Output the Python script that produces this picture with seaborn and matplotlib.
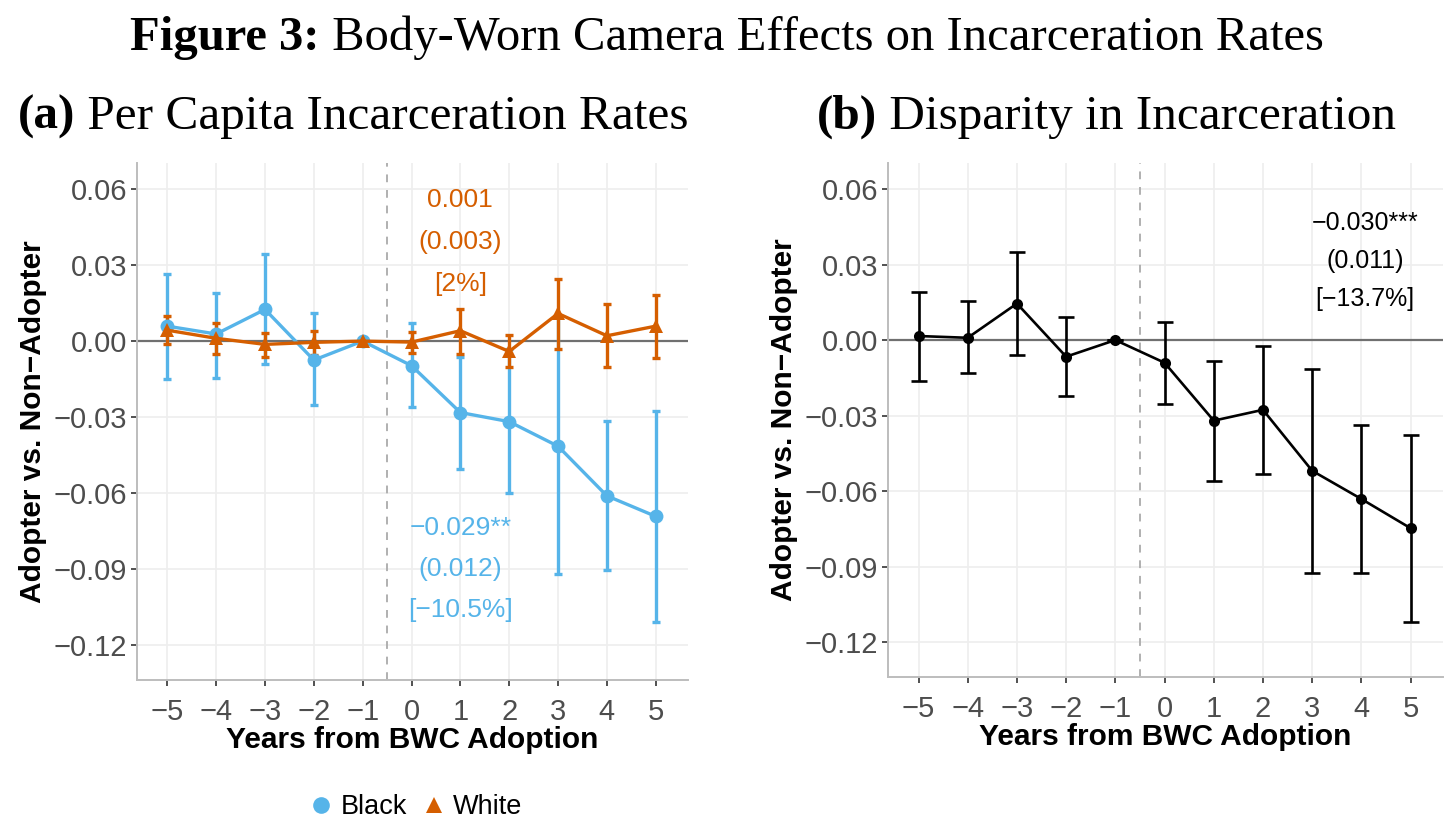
import numpy as np
import pandas as pd
import matplotlib
matplotlib.use("Agg")
import matplotlib.pyplot as plt
from matplotlib.lines import Line2D
import seaborn as sns

# event-time axis
years = [-5, -4, -3, -2, -1, 0, 1, 2, 3, 4, 5]

# panel (a): per capita incarceration, by race
black_coef = [0.0059, 0.0028, 0.0125, -0.0075, 0.0, -0.0097, -0.0282, -0.0318, -0.0415, -0.0611, -0.0692]
black_lo = [-0.0149, -0.0147, -0.0092, -0.0253, 0.0, -0.0262, -0.0503, -0.0601, -0.0921, -0.0903, -0.1107]
black_hi = [0.0263, 0.0188, 0.0345, 0.0109, 0.0, 0.0070, -0.0062, -0.0032, 0.0096, -0.0316, -0.0275]

white_coef = [0.0043, 0.0011, -0.0013, -0.0005, 0.0, -0.0004, 0.0041, -0.0041, 0.0109, 0.0021, 0.0059]
white_lo = [-0.0013, -0.0051, -0.0064, -0.0055, 0.0, -0.0046, -0.0049, -0.0104, -0.0033, -0.0104, -0.0068]
white_hi = [0.0099, 0.0072, 0.0030, 0.0039, 0.0, 0.0036, 0.0126, 0.0024, 0.0246, 0.0146, 0.0182]

# panel (b): black-white disparity
disp_coef = [0.0016, 0.0009, 0.0145, -0.0066, 0.0, -0.0090, -0.0320, -0.0277, -0.0519, -0.0631, -0.0747]
disp_lo = [-0.0162, -0.0131, -0.0061, -0.0223, 0.0, -0.0255, -0.0558, -0.0530, -0.0924, -0.0924, -0.1120]
disp_hi = [0.0192, 0.0154, 0.0350, 0.0092, 0.0, 0.0072, -0.0084, -0.0024, -0.0114, -0.0336, -0.0376]

y_ticks = [-0.12, -0.09, -0.06, -0.03, 0.00, 0.03, 0.06]
y_labels = ["−0.12", "−0.09", "−0.06", "−0.03", "0.00", "0.03", "0.06"]
x_labels = ["−5", "−4", "−3", "−2", "−1", "0", "1", "2", "3", "4", "5"]

white_note = ["0.001", "(0.003)", "[2%]"]
black_note = ["−0.029**", "(0.012)", "[−10.5%]"]
disp_note = ["−0.030***", "(0.011)", "[−13.7%]"]

BLUE = "#56B4E9"
ORANGE = "#D55E00"
SANS = ["Liberation Sans", "DejaVu Sans"]
SERIF = ["Liberation Serif", "DejaVu Serif"]

sns.set_theme(style="white")
plt.rcParams["font.family"] = SANS

df_race = pd.DataFrame({
    "year": years * 2,
    "coef": black_coef + white_coef,
    "group": ["Black"] * len(years) + ["White"] * len(years),
})
df_disp = pd.DataFrame({"year": years, "coef": disp_coef})

fig = plt.figure(figsize=(14.56, 8.30), dpi=100)
ax_a = fig.add_axes([0.0941, 0.1807, 0.3784, 0.6229])
ax_b = fig.add_axes([0.6099, 0.1843, 0.3812, 0.6193])


def style_axis(ax):
    ax.set_xlim(-5.62, 5.66)
    ax.set_ylim(-0.1338, 0.0703)
    ax.set_xticks(years)
    ax.set_xticklabels(x_labels)
    ax.set_yticks(y_ticks)
    ax.set_yticklabels(y_labels)
    ax.grid(True, color="#EEEEEE", linewidth=1.2)
    ax.set_axisbelow(True)
    for side in ["top", "right"]:
        ax.spines[side].set_visible(False)
    for side in ["left", "bottom"]:
        ax.spines[side].set_color("#BDBDBD")
        ax.spines[side].set_linewidth(1.4)
    ax.tick_params(axis="both", length=4, width=1.2, color="#333333",
                   labelcolor="#4D4D4D", labelsize=21, left=True, bottom=True)
    ax.tick_params(axis="x", pad=9)
    ax.tick_params(axis="y", pad=3)
    ax.axhline(0, color="#707070", linewidth=1.6, zorder=1)
    ax.axvline(-0.5, color="#B0B0B0", linewidth=1.4, linestyle=(0, (4, 4)), zorder=1)


def axis_titles(ax):
    ax.set_xlabel("Years from BWC Adoption", fontsize=21.5, fontweight="bold",
                  color="black", labelpad=0)
    ax.set_ylabel("Adopter vs. Non−Adopter", fontsize=21.5, fontweight="bold",
                  color="black", labelpad=5)


# ---- panel (a)
style_axis(ax_a)
b = np.array(black_coef)
w = np.array(white_coef)
ax_a.errorbar(years, b, yerr=[b - np.array(black_lo), np.array(black_hi) - b],
              fmt="none", ecolor=BLUE, elinewidth=2.4, capsize=3, capthick=2.4, zorder=2)
ax_a.errorbar(years, w, yerr=[w - np.array(white_lo), np.array(white_hi) - w],
              fmt="none", ecolor=ORANGE, elinewidth=2.4, capsize=3, capthick=2.4, zorder=3)
sns.lineplot(data=df_race, x="year", y="coef", hue="group", style="group",
             palette={"Black": BLUE, "White": ORANGE},
             markers={"Black": "o", "White": "^"}, dashes=False,
             linewidth=2.4, markersize=10, markeredgewidth=0,
             legend=False, ax=ax_a, zorder=4)
axis_titles(ax_a)

for i, line in enumerate(white_note):
    ax_a.text(1, 0.0557 - i * 0.0166, line, color=ORANGE, fontsize=19, ha="center", va="center")
for i, line in enumerate(black_note):
    ax_a.text(1, -0.0738 - i * 0.0162, line, color=BLUE, fontsize=19, ha="center", va="center")

# ---- panel (b)
style_axis(ax_b)
d = np.array(disp_coef)
ax_b.errorbar(years, d, yerr=[d - np.array(disp_lo), np.array(disp_hi) - d],
              fmt="none", ecolor="black", elinewidth=1.9, capsize=6, capthick=1.9, zorder=2)
sns.lineplot(data=df_disp, x="year", y="coef", color="black", marker="o",
             linewidth=1.9, markersize=8, markeredgewidth=0, ax=ax_b, zorder=4)
axis_titles(ax_b)

for i, line in enumerate(disp_note):
    ax_b.text(4.07, 0.0466 - i * 0.0152, line, color="black", fontsize=18, ha="center", va="center")

# ---- titles (bold prefix + regular rest, centred as one line)
renderer = fig.canvas.get_renderer()


def mixed_title(xc, yc, bold, rest, size):
    t1 = fig.text(0, yc, bold, fontsize=size, fontweight="bold", family=SERIF,
                  va="center", color="black")
    t2 = fig.text(0, yc, rest, fontsize=size, family=SERIF, va="center", color="black")
    w1 = t1.get_window_extent(renderer).width
    w2 = t2.get_window_extent(renderer).width
    W = fig.bbox.width
    left = xc * W - (w1 + w2) / 2
    t1.set_x(left / W)
    t2.set_x((left + w1) / W)


mixed_title(0.4993, 1 - 38 / 830, "Figure 3:", " Body-Worn Camera Effects on Incarceration Rates", 35)
mixed_title(0.2424, 1 - 117 / 830, "(a)", " Per Capita Incarceration Rates", 35.5)
mixed_title(0.7600, 1 - 117 / 830, "(b)", " Disparity in Incarceration", 35.5)

# ---- legend
handles = [
    Line2D([], [], marker="o", color=BLUE, linestyle="None", markersize=12, markeredgewidth=0),
    Line2D([], [], marker="^", color=ORANGE, linestyle="None", markersize=12, markeredgewidth=0),
]
leg = fig.legend(handles, ["Black", "White"], loc="center", bbox_to_anchor=(0.285, 1 - 807 / 830),
                 ncol=2, frameon=False, fontsize=19.5, handletextpad=0.2, columnspacing=0.5,
                 handlelength=1.0)
for txt in leg.get_texts():
    txt.set_color("black")

fig.savefig("out.png", dpi=100)
